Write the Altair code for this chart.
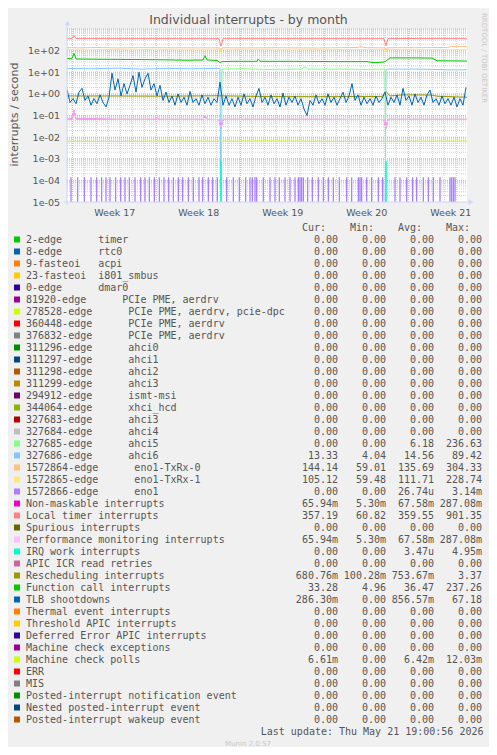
import altair as alt
import pandas as pd

# ---------------------------------------------------------------- time axis
SPAN_H = 800            # hours shown (2 h per pixel, 400 px)
WEEK_START_H = 10.6     # Monday 00:00 of week 17, hours after left edge
week_labels = ["Week 17", "Week 18", "Week 19", "Week 20", "Week 21"]
y_tick_values = [1e-5, 1e-4, 1e-3, 1e-2, 1e-1, 1e0, 1e1, 1e2]
y_tick_labels = ["1e-05", "1e-04", "1e-03", "1e-02", "1e-01", "1e+00", "1e+01", "1e+02"]

# ---------------------------------------------------------------- series (hours, value/s)
ahci5_t = [0, 308, 310, 350, 400, 470, 476, 482, 550, 600, 636, 638, 800]
ahci5_v = [0, 0, 14, 14.5, 13.5, 14, 18, 14, 14, 13.5, 14, 0, 0]

ahci6_t = [0, 50, 100, 150, 200, 250, 300, 306, 308, 636, 638, 640, 700, 760, 800]
ahci6_v = [15, 14.5, 15.5, 14, 15, 14.5, 15, 15, 0, 0, 13, 14, 14, 13, 13]

txrx0_t = [0, 30, 60, 100, 150, 200, 250, 306, 308, 310, 360, 420, 500, 580, 586, 600, 636, 638, 640, 700, 760, 770, 800]
txrx0_v = [138, 134, 140, 133, 137, 135, 134, 134, 85, 135, 133, 136, 132, 140, 150, 136, 135, 90, 136, 137, 140, 155, 158]

txrx1_t = [0, 40, 80, 130, 200, 260, 306, 308, 310, 380, 450, 520, 600, 636, 638, 640, 720, 800]
txrx1_v = [112, 110, 113, 111, 112, 110, 111, 80, 111, 112, 110, 112, 113, 111, 85, 112, 111, 110]

eno1_spike_t = [8, 21.3, 34.7, 48, 59.3, 69.3, 78, 86, 97.3, 107.3, 116, 124.7, 136, 147.3, 156,
                164.7, 174.7, 184.7, 194, 203.3, 212.7, 222.7, 231.3, 242.7, 252.7, 264, 271.3,
                282.7, 291.3, 300.7, 319.3, 332.7, 344.7, 357.3, 366, 370.7, 376, 379.3, 392.7,
                406, 416, 424.7, 436, 446, 456, 462.7, 466, 469.3, 472.7, 481.3, 490.7, 502.7,
                512.7, 522.7, 532.7, 544.7, 559.3, 569.3, 582.7, 586, 589.3, 599.3, 609.3, 622.7,
                631.3, 656, 666, 679.3, 691.3, 699.3, 712.7, 722.7, 732.7, 746, 766, 769.3,
                772.7, 776]
eno1_spike_v = [1.39e-4] * len(eno1_spike_t)

nmi_t = [0, 10, 14, 18, 100, 176, 180, 184, 272, 276, 280, 304, 308, 312, 400, 500, 634, 638, 642, 700, 800]
nmi_v = [0.066, 0.07, 0.18, 0.07, 0.066, 0.066, 0.075, 0.066, 0.066, 0.095, 0.066, 0.065, 0.026,
         0.066, 0.066, 0.066, 0.065, 0.026, 0.066, 0.066, 0.066]
pmi_t = nmi_t
pmi_v = nmi_v

loc_t = [0, 10, 14, 18, 100, 200, 304, 308, 312, 400, 500, 634, 638, 642, 690, 700, 800]
loc_v = [355, 358, 500, 358, 357, 356, 355, 160, 356, 357, 356, 356, 170, 357, 365, 358, 357]

iwi_spike_t = [308, 638]
iwi_spike_v = [8e-4, 8e-4]

res_t = [0, 100, 200, 300, 400, 500, 600, 630, 638, 646, 670, 700, 730, 740, 800]
res_v = [0.8, 0.8, 0.78, 0.82, 0.75, 0.74, 0.76, 0.75, 1.3, 0.8, 0.9, 0.9, 0.88, 0.78, 0.7]

cal_t = [0, 6, 10, 14, 18, 60, 120, 180, 240, 272, 276, 280, 300, 306, 310, 330, 380, 382, 386,
         450, 530, 600, 612, 620, 634, 638, 646, 700, 730, 740, 800]
cal_v = [44, 42, 43, 75, 41, 40, 39, 38, 36, 37, 58, 37, 35, 28, 31, 32, 32, 40, 32, 32, 31, 31,
         28, 28, 30, 33, 46, 46, 45, 34, 33]

tlb_step_h = 6
tlb_v = [1.6, 0.4, 0.6, 0.35, 1.2, 1.8, 0.5, 0.8, 0.3, 0.6, 0.35, 0.9, 0.4, 0.25, 0.7, 9, 1.5, 5,
         0.8, 3, 1, 2.5, 7, 1.2, 10, 2, 5, 9, 1.5, 3, 0.8, 2.5, 0.5, 1.2, 0.4, 0.8, 0.3, 1.0, 0.4,
         0.7, 0.3, 1.3, 0.4, 0.6, 0.3, 0.9, 0.35, 0.7, 0.3, 0.6, 0.4, 3.5, 0.3, 0.8, 0.3, 0.6,
         0.25, 0.7, 0.3, 1.0, 0.35, 0.6, 0.25, 0.8, 1.8, 0.4, 0.7, 0.3, 0.9, 0.35, 0.6, 0.25, 1.1,
         0.3, 0.7, 0.4, 0.8, 0.3, 0.6, 0.2, 0.1, 0.5, 0.3, 0.9, 0.35, 0.6, 0.3, 1.0, 0.4, 0.7, 0.3,
         0.6, 1.2, 0.4, 0.8, 3, 0.5, 0.9, 0.3, 0.7, 0.35, 0.6, 0.3, 0.8, 0.4, 0.6, 1.2, 0.3, 0.7,
         0.4, 0.9, 0.3, 1.8, 0.5, 0.8, 0.3, 1.0, 0.4, 0.7, 0.3, 0.9, 1.5, 0.4, 0.6, 0.3, 0.8, 0.35,
         0.6, 0.3, 0.7, 0.25, 0.6, 0.3, 2.0]
tlb_t = [i * tlb_step_h for i in range(len(tlb_v))]

mcp_t = [0, 100, 200, 300, 400, 500, 600, 700, 800]
mcp_v = [0.0064, 0.0063, 0.0065, 0.0064, 0.0066, 0.0064, 0.0063, 0.0064, 0.0065]

# ---------------------------------------------------------------- legend table
legend_names = [
    "2-edge      timer", "8-edge      rtc0", "9-fasteoi   acpi", "23-fasteoi  i801_smbus",
    "0-edge      dmar0", "81920-edge      PCIe PME, aerdrv",
    "278528-edge      PCIe PME, aerdrv, pcie-dpc", "360448-edge      PCIe PME, aerdrv",
    "376832-edge      PCIe PME, aerdrv", "311296-edge      ahci0", "311297-edge      ahci1",
    "311298-edge      ahci2", "311299-edge      ahci3", "294912-edge      ismt-msi",
    "344064-edge      xhci_hcd", "327683-edge      ahci3", "327684-edge      ahci4",
    "327685-edge      ahci5", "327686-edge      ahci6", "1572864-edge      eno1-TxRx-0",
    "1572865-edge      eno1-TxRx-1", "1572866-edge      eno1", "Non-maskable interrupts",
    "Local timer interrupts", "Spurious interrupts", "Performance monitoring interrupts",
    "IRQ work interrupts", "APIC ICR read retries", "Rescheduling interrupts",
    "Function call interrupts", "TLB shootdowns", "Thermal event interrupts",
    "Threshold APIC interrupts", "Deferred Error APIC interrupts", "Machine check exceptions",
    "Machine check polls", "ERR", "MIS", "Posted-interrupt notification event",
    "Nested posted-interrupt event", "Posted-interrupt wakeup event",
]
legend_colors = [
    "#00CC00", "#0066B3", "#FF8000", "#FFCC00", "#330099", "#990099", "#CCFF00", "#FF0000",
    "#808080", "#008F00", "#00487D", "#B35A00", "#B38F00", "#6B006B", "#8FB300", "#B30000",
    "#BEBEBE", "#80FF80", "#80C9FF", "#FFC080", "#FFE680", "#AA80FF", "#EE00CC", "#FF8080",
    "#666600", "#FFBFFF", "#00FFCC", "#CC6699", "#999900", "#00CC00", "#0066B3", "#FF8000",
    "#FFCC00", "#330099", "#990099", "#CCFF00", "#FF0000", "#808080", "#008F00", "#00487D",
    "#B35A00",
]
Z = 0.0
cur_vals = [Z] * 17 + [0, 13.33, 144.14, 105.12, 0, 0.06594, 357.19, 0, 0.06594, 0, 0, 0.68076,
                       33.28, 0.2863, 0, 0, 0, 0, 0.00661, 0, 0, 0, 0, 0]
min_vals = [Z] * 17 + [0, 4.04, 59.01, 59.48, 0, 0.0053, 60.82, 0, 0.0053, 0, 0, 0.10028,
                       4.96, 0, 0, 0, 0, 0, 0, 0, 0, 0, 0, 0]
avg_vals = [Z] * 17 + [6.18, 14.56, 135.69, 111.71, 26.74e-6, 0.06758, 359.55, 0, 0.06758,
                       3.47e-6, 0, 0.75367, 36.47, 0.85657, 0, 0, 0, 0, 0.00642, 0, 0, 0, 0, 0]
max_vals = [Z] * 17 + [236.63, 89.42, 304.33, 228.74, 3.14e-3, 0.28708, 901.35, 0, 0.28708,
                       4.95e-3, 0, 3.37, 237.26, 67.18, 0, 0, 0, 0, 0.01203, 0, 0, 0, 0, 0]
header_labels = ["Cur:", "Min:", "Avg:", "Max:"]

title_text = "Individual interrupts - by month"
y_title = "interrupts / second"
last_update = "Last update: Thu May 21 19:00:56 2026"
footer_text = "Munin 2.0.57"
watermark = "RRDTOOL / TOBI OETIKER"

# ---------------------------------------------------------------- helpers
W, H = 400, 173
NBSP = "\u00a0"
FLOOR = 1e-7          # zero values fall below the log axis and are clipped
FONT = "DejaVu Sans"
MONO = "DejaVu Sans Mono"
TXT = "#555555"


def fmt(v):
    if v == 0:
        return "0.00" + NBSP
    for scale, unit in [(1e3, "k"), (1.0, NBSP), (1e-3, "m"), (1e-6, "u")]:
        if abs(v) >= scale:
            return f"{v / scale:.2f}{unit}"
    return f"{v / 1e-9:.2f}n"


def sdf(t, v):
    return pd.DataFrame({"t": t, "v": [x if x > 0 else FLOOR for x in v]})


week_mid = [WEEK_START_H + 84 + 168 * k for k in range(len(week_labels))]
x_label_expr = "[" + ",".join(f"'{s}'" for s in week_labels) + \
    f"][round((datum.value - {WEEK_START_H + 84}) / 168)]"
y_label_expr = "[" + ",".join(f"'{s}'" for s in y_tick_labels) + "][round(log(datum.value) / LN10) + 5]"

x_axis = alt.Axis(values=week_mid, labelExpr=x_label_expr, title=None, grid=False, domain=False,
                  ticks=False, tickSize=0, labelPadding=10.5, labelBaseline="middle",
                  labelFont=FONT, labelFontSize=9.5, labelColor=TXT, labelFlush=False,
                  labelOverlap=False)
y_axis = alt.Axis(values=y_tick_values, labelExpr=y_label_expr, title=None, grid=False, domain=False,
                  ticks=False, tickSize=0, labelPadding=7.5, labelBaseline="middle",
                  labelFont=FONT, labelFontSize=9.5, labelColor=TXT, labelFlush=False,
                  labelOverlap=False)
X = alt.X("t:Q", scale=alt.Scale(domain=[0, SPAN_H], nice=False, zero=False), axis=x_axis)
Y = alt.Y("v:Q", scale=alt.Scale(type="log", domain=[1e-5, 1e3], nice=False), axis=y_axis)

GRID_MINOR = "rgba(140,140,140,0.40)"
GRID_MAJOR = "rgba(200,40,40,0.40)"

minor_y = pd.DataFrame({"v": [k * 10.0 ** n for n in range(-5, 3) for k in range(2, 10)]})
major_y = pd.DataFrame({"v": [10.0 ** n for n in range(-4, 4)]})
minor_x = pd.DataFrame({"t": [WEEK_START_H + 24 * k for k in range(34) if k % 7 and WEEK_START_H + 24 * k < SPAN_H]})
major_x = pd.DataFrame({"t": [WEEK_START_H + 168 * k for k in range(5)]})

layers = [
    alt.Chart(minor_y).mark_rule(color=GRID_MINOR, strokeDash=[1, 1], strokeWidth=1)
    .encode(y=Y, x=alt.value(0), x2=alt.value(W)),
    alt.Chart(minor_x).mark_rule(color=GRID_MINOR, strokeDash=[1, 1], strokeWidth=1)
    .encode(x=X, y=alt.value(0), y2=alt.value(H)),
    alt.Chart(major_y).mark_rule(color=GRID_MAJOR, strokeDash=[1, 1], strokeWidth=1)
    .encode(y=Y, x=alt.value(0), x2=alt.value(W)),
    alt.Chart(major_x).mark_rule(color=GRID_MAJOR, strokeDash=[1, 1], strokeWidth=1)
    .encode(x=X, y=alt.value(0), y2=alt.value(H)),
]


def line(t, v, color):
    return alt.Chart(sdf(t, v)).mark_line(color=color, strokeWidth=1, clip=True).encode(x=X, y=Y)


def spikes(t, v, color, w):
    return alt.Chart(sdf(t, v)).mark_rule(color=color, strokeWidth=w, clip=True).encode(
        x=X, y=Y, y2=alt.value(H))


layers += [
    line(ahci6_t, ahci6_v, "#80C9FF"),
    line(ahci5_t, ahci5_v, "#80FF80"),
    line(txrx0_t, txrx0_v, "#FFC080"),
    line(txrx1_t, txrx1_v, "#FFE680"),
    spikes(eno1_spike_t, eno1_spike_v, "#AA80FF", 1.3),
    line(nmi_t, nmi_v, "#EE00CC"),
    line(loc_t, loc_v, "#FF8080"),
    line(pmi_t, pmi_v, "#FFBFFF"),
    spikes(iwi_spike_t, iwi_spike_v, "#00FFCC", 1.6),
    line(res_t, res_v, "#999900"),
    line(cal_t, cal_v, "#00CC00"),
    line(tlb_t, tlb_v, "#0066B3"),
    line(mcp_t, mcp_v, "#CCFF00"),
]

AXIS_COL = "#CFD6F8"
one = pd.DataFrame({"k": [0]})
layers += [
    alt.Chart(one).mark_rule(color=AXIS_COL, strokeWidth=1).encode(
        x=alt.value(0), y=alt.value(H + 3), y2=alt.value(-5)),
    alt.Chart(one).mark_rule(color=AXIS_COL, strokeWidth=1).encode(
        y=alt.value(H), x=alt.value(-3), x2=alt.value(W + 3)),
    alt.Chart(one).mark_point(shape="triangle-up", filled=True, size=30, color=AXIS_COL, opacity=1)
    .encode(x=alt.value(0.5), y=alt.value(-6)),
    alt.Chart(one).mark_point(shape="triangle-right", filled=True, size=30, color=AXIS_COL, opacity=1)
    .encode(x=alt.value(W + 4), y=alt.value(H)),
]
main = alt.layer(*layers)

# ---------------------------------------------------------------- legend table / texts
leg = pd.DataFrame({
    "row": list(range(len(legend_names))),
    "name": [s.replace(" ", NBSP) for s in legend_names],
    "color": legend_colors,
    "cur": [fmt(v) for v in cur_vals],
    "mn": [fmt(v) for v in min_vals],
    "avg": [fmt(v) for v in avg_vals],
    "mx": [fmt(v) for v in max_vals],
})
ROW = alt.Y("row:Q", scale=alt.Scale(domain=[0, 40], range=[210.5, 690.5], nice=False, zero=False),
            axis=None)
mono = dict(font=MONO, fontSize=10, color=TXT, baseline="middle")

leg_layers = [
    alt.Chart(leg).mark_point(shape="square", filled=True, size=36, opacity=1, strokeWidth=0)
    .encode(x=alt.value(-50), y=ROW, color=alt.Color("color:N", scale=None)),
    alt.Chart(leg).mark_text(align="left", **mono).encode(x=alt.value(-41), y=ROW, text="name:N"),
]
val_x = [271, 319, 367, 415]
hdr_x = [235, 283, 331, 379]
for col, vx in zip(["cur", "mn", "avg", "mx"], val_x):
    leg_layers.append(alt.Chart(leg).mark_text(align="right", **mono).encode(
        x=alt.value(vx), y=ROW, text=f"{col}:N"))
hdr = pd.DataFrame({"row": [-1] * 4, "label": header_labels, "col": [0, 1, 2, 3]})
for i, hx in enumerate(hdr_x):
    leg_layers.append(alt.Chart(hdr.iloc[[i]]).mark_text(align="left", **mono).encode(
        x=alt.value(hx), y=ROW, text="label:N"))
leg_layers.append(alt.Chart(pd.DataFrame({"row": [41], "s": [last_update]}))
                  .mark_text(align="right", **mono).encode(x=alt.value(416.5), y=ROW, text="s:N"))

leg_layers += [
    alt.Chart(pd.DataFrame({"s": [title_text]})).mark_text(
        font=FONT, fontSize=12.5, color=TXT, align="center", baseline="middle")
    .encode(x=alt.value(181.5), y=alt.value(-9), text="s:N"),
    alt.Chart(pd.DataFrame({"s": [y_title]})).mark_text(
        font=FONT, fontSize=11, color=TXT, align="center", baseline="middle", angle=270)
    .encode(x=alt.value(-52.5), y=alt.value(85.5), text="s:N"),
    alt.Chart(pd.DataFrame({"s": [watermark]})).mark_text(
        font=FONT, fontSize=7, color="#C8C8C8", align="center", baseline="middle", angle=90)
    .encode(x=alt.value(417), y=alt.value(29), text="s:N"),
    alt.Chart(pd.DataFrame({"s": [footer_text]})).mark_text(
        font=FONT, fontSize=7, color="#C8C8C8", align="center", baseline="middle")
    .encode(x=alt.value(181), y=alt.value(715), text="s:N"),
]
legend = alt.layer(*leg_layers)

chart = (
    alt.layer(main, legend)
    .resolve_scale(y="independent")
    .properties(width=W, height=H, autosize=alt.AutoSizeParams(type="none"),
                padding={"left": 59, "top": 21, "right": 22, "bottom": 545})
    .configure(background="#F0F0F0")
    .configure_view(fill="white", stroke=None)
)
chart.save("out.html", embed_options={"renderer": "svg", "actions": False})
